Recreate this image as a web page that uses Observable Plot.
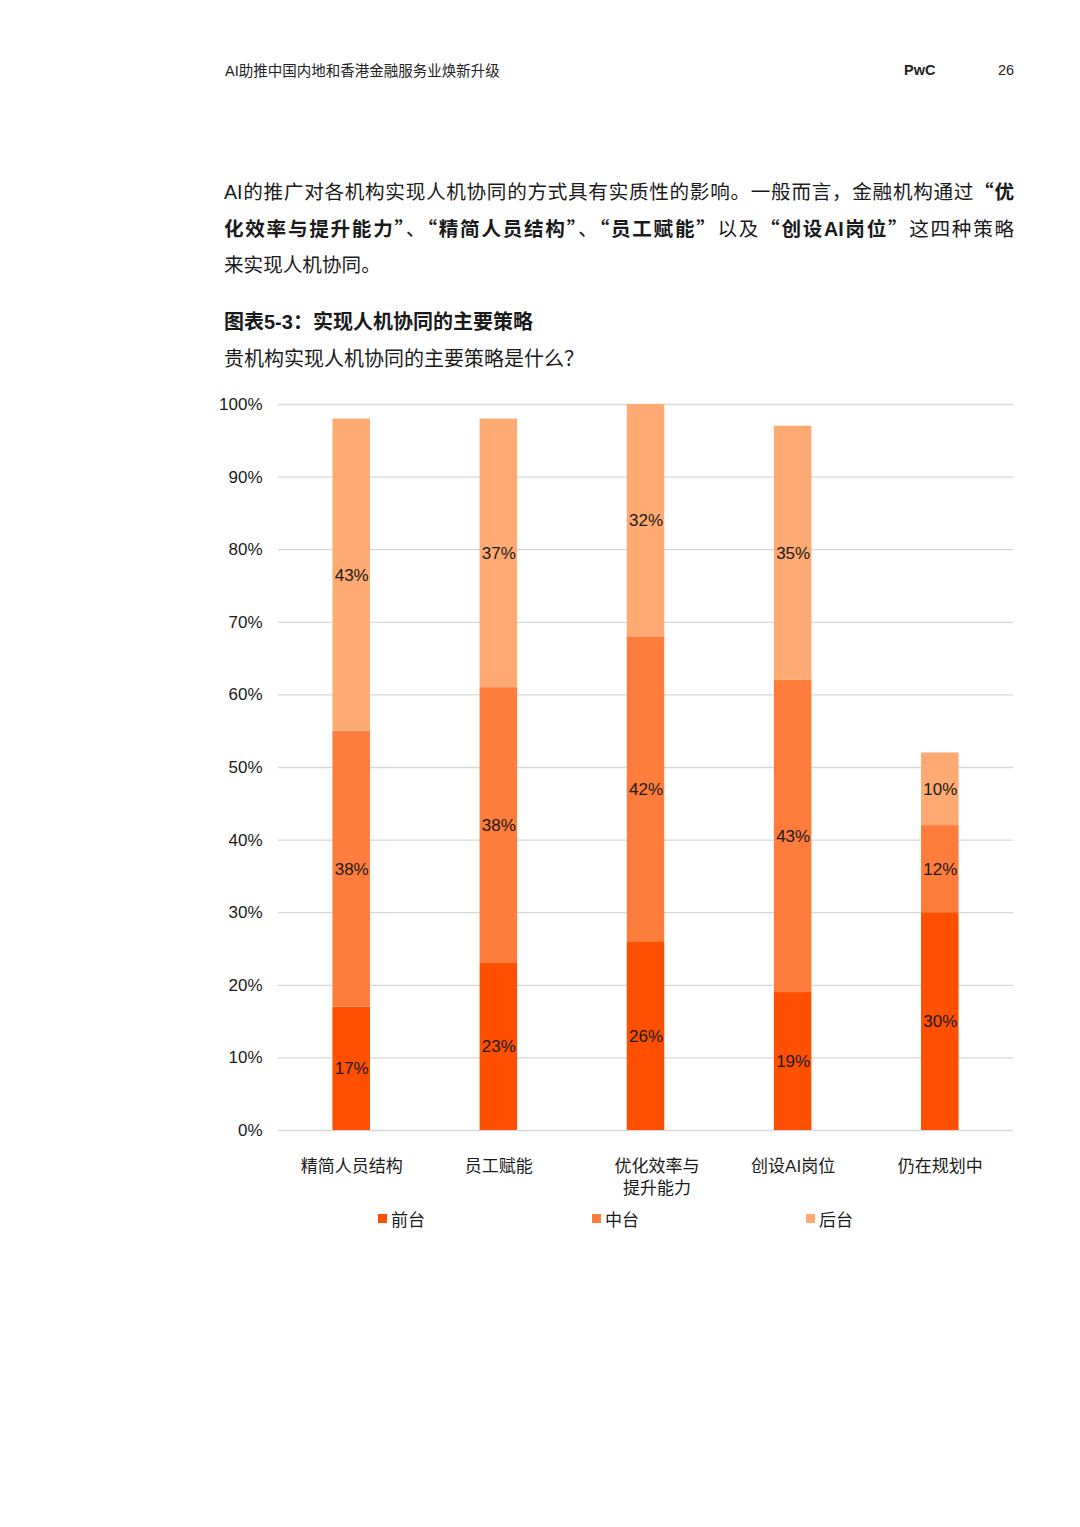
<!DOCTYPE html>
<html>
<head>
<meta charset="utf-8">
<script src="https://cdn.jsdelivr.net/npm/d3@7"></script>
<script src="https://cdn.jsdelivr.net/npm/@observablehq/plot@0.6"></script>
<style>
  html, body { margin: 0; padding: 0; background: #fff; }
  body { width: 1080px; height: 1527px; position: relative; font-family: "Liberation Sans", "Noto Sans CJK SC", sans-serif; color: #1a1a1a; }
  .hdr { position: absolute; top: 59px; font-size: 14.5px; color: #222; }
  .para { position: absolute; left: 224px; top: 173px; width: 790px; font-size: 19.6px; line-height: 36px; color: #1a1a1a; }
  .para div { text-align: justify; text-align-last: justify; white-space: nowrap; }
  .para div.last { text-align-last: left; }
  .q { font-family: "Noto Sans CJK SC", sans-serif; }
  b { font-weight: bold; }
  .title { position: absolute; left: 224px; top: 306px; font-size: 20px; font-weight: bold; }
  .sub { position: absolute; left: 224px; top: 343px; font-size: 20px; }
  #chart { position: absolute; left: 0; top: 385px; }
  #legend { position: absolute; top: 1206px; left: 0; width: 1080px; height: 24px; font-size: 17px; }
  #legend .item { position: absolute; display: flex; align-items: center; }
  #legend .sw { width: 9px; height: 9px; margin-right: 4px; }
</style>
</head>
<body>
<div class="hdr" style="left:225px">AI助推中国内地和香港金融服务业焕新升级</div>
<div class="hdr" style="left:904px;top:62px;font-weight:bold">PwC</div>
<div class="hdr" style="left:998px;top:62px">26</div>

<div class="para">
  <div>AI的推广对各机构实现人机协同的方式具有实质性的影响。一般而言，金融机构通过<b><span class="q">“</span>优</b></div>
  <div><b>化效率与提升能力<span class="q">”</span></b>、<b><span class="q">“</span>精简人员结构<span class="q">”</span></b>、<b><span class="q">“</span>员工赋能<span class="q">”</span></b>以及<b><span class="q">“</span>创设AI岗位<span class="q">”</span></b>这四种策略</div>
  <div class="last">来实现人机协同。</div>
</div>
<div class="title">图表5-3：实现人机协同的主要策略</div>
<div class="sub">贵机构实现人机协同的主要策略是什么？</div>

<div id="chart"></div>
<div id="legend"></div>

<script>
const categories = ["精简人员结构", "员工赋能", "优化效率与\n提升能力", "创设AI岗位", "仍在规划中"];
const seriesNames = ["前台", "中台", "后台"];
const seriesColors = ["#FE5000", "#FE7D3C", "#FEAA72"];
const frontValues = [17, 23, 26, 19, 30];
const middleValues = [38, 38, 42, 43, 12];
const backValues = [43, 37, 32, 35, 10];
const yTicks = [0, 10, 20, 30, 40, 50, 60, 70, 80, 90, 100];

const seriesValues = [frontValues, middleValues, backValues];
const data = [];
seriesNames.forEach((s, si) => {
  categories.forEach((c, ci) => {
    data.push({category: c, series: s, value: seriesValues[si][ci]});
  });
});

const axisOpts = {tickSize: 0, tickPadding: 26, fontSize: 17, fill: "#1a1a1a", lineHeight: 1.3};

const chart = Plot.plot({
  width: 1080,
  height: 815,
  marginLeft: 278,
  marginRight: 67,
  marginTop: 19,
  marginBottom: 70,
  style: {fontFamily: '"Liberation Sans", "Noto Sans CJK SC", sans-serif', fontSize: "17px", color: "#1a1a1a", background: "#fff"},
  x: {domain: categories, paddingInner: 0.745, paddingOuter: 0.37, round: false, label: null},
  y: {domain: [0, 100], label: null},
  color: {domain: seriesNames, range: seriesColors},
  marks: [
    Plot.ruleY(yTicks, {stroke: "#d9d9d9", strokeWidth: 1.3}),
    Plot.barY(data, Plot.stackY({x: "category", y: "value", fill: "series", order: seriesNames})),
    Plot.text(data, Plot.stackY({x: "category", y: "value", z: "series", order: seriesNames, text: d => d.value + "%", fill: "#1a1a1a", fontSize: 17, letterSpacing: "0.6px"})),
    Plot.axisY({ticks: yTicks, tickSize: 0, tickPadding: 16, tickFormat: d => d + "%", fontSize: 17, fill: "#1a1a1a"}),
    Plot.axisX({...axisOpts, ticks: categories.filter((c, i) => i !== 2)}),
    Plot.axisX({...axisOpts, ticks: [categories[2]], dx: 11})
  ]
});
document.getElementById("chart").appendChild(chart);

const legend = document.getElementById("legend");
const legendX = [378, 592, 806];
seriesNames.forEach((s, i) => {
  const item = document.createElement("div");
  item.className = "item";
  item.style.left = legendX[i] + "px";
  const sw = document.createElement("span");
  sw.className = "sw";
  sw.style.background = seriesColors[i];
  const t = document.createElement("span");
  t.textContent = s;
  item.appendChild(sw);
  item.appendChild(t);
  legend.appendChild(item);
});
</script>
</body>
</html>
